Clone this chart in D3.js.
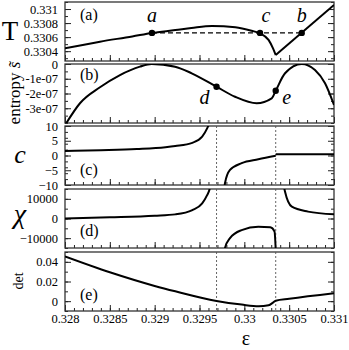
<!DOCTYPE html>
<html>
<head>
<meta charset="utf-8">
<script src="https://cdn.jsdelivr.net/npm/d3@7"></script>
<style>
  body { margin: 0; background: #fff; }
  svg { display: block; }
  text { font-family: "Liberation Serif", "Times New Roman", serif; fill: #000; }
  .tick text { font-size: 12.5px; }
</style>
</head>
<body>
<svg id="chart"></svg>
<script>
// x axis (epsilon)
const epsMajor = [0.328, 0.3285, 0.329, 0.3295, 0.33, 0.3305, 0.331];
const epsLabels = ["0.328", "0.3285", "0.329", "0.3295", "0.33", "0.3305", "0.331"];

// spinodal positions (dashed verticals)
const spinodal = [0.32969, 0.33035];

// (a) temperature
const tTicks = [0.3304, 0.3306, 0.3308, 0.331];
const tLabels = ["0.3304", "0.3306", "0.3308", "0.331"];
const tEps = [0.328, 0.32839, 0.32875, 0.32897, 0.32923, 0.32941, 0.32964, 0.3299, 0.33008, 0.330175, 0.33027, 0.33032, 0.33035];
const tVal = [0.33044, 0.330535, 0.33061, 0.33066, 0.3307, 0.33073, 0.33076, 0.33074, 0.33069, 0.330654, 0.33056, 0.33044, 0.330345];
const tEps2 = [0.33035, 0.331];
const tVal2 = [0.330345, 0.331057];
const tieEps = [0.32897, 0.33064];
const tieT = 0.33066;
const tPoints = [
  { name: "a", eps: 0.32897, t: 0.33066 },
  { name: "c", eps: 0.330175, t: 0.33066 },
  { name: "b", eps: 0.33064, t: 0.33066 }
];

// (b) entropy
const sTicks = [0, -1e-7, -2e-7, -3e-7];
const sLabels = ["0", "-1e-07", "-2e-07", "-3e-07"];
const sEps = [0.328, 0.328167, 0.32839, 0.328613, 0.328836, 0.328967, 0.329227, 0.329413, 0.32969, 0.329896, 0.330138, 0.330305, 0.33035, 0.330454, 0.33064, 0.330788, 0.3309, 0.331];
const sVal = [-4.15, -2.66, -1.58, -0.75, -0.18, 0, -0.18, -0.63, -1.54, -2.22, -2.66, -2.33, -1.81, -0.63, 0, -0.41, -1.31, -2.78].map(v => v * 1e-7);
const sPoints = [
  { name: "d", eps: 0.32969, s: -1.54e-7 },
  { name: "e", eps: 0.33035, s: -1.81e-7 }
];

// (c) specific heat
const cTicks = [10, 5, 0, -5, -10];
const cEps1 = [0.328, 0.3284, 0.3288, 0.32912, 0.32923, 0.32942, 0.32953, 0.329585, 0.32961, 0.32963];
const cVal1 = [1.5, 1.8, 2.2, 2.8, 3.2, 4.3, 6.4, 9.2, 11, 14];
const cEps2 = [0.32977, 0.329784, 0.32984, 0.32997, 0.330156, 0.33035];
const cVal2 = [-14, -9.4, -4.9, -2.6, -1.3, -0.1];
const cEps3 = [0.33035, 0.331];
const cVal3 = [0.4, 0.4];

// (d) susceptibility
const chiTicks = [10000, 0, -10000];
const chiEps1 = [0.328, 0.3285, 0.329, 0.32923, 0.32942, 0.32953, 0.329585, 0.32961, 0.32963];
const chiVal1 = [0, 600, 1400, 2100, 4300, 7700, 11900, 14500, 19000];
const chiEps2 = [0.32977, 0.329784, 0.32984, 0.32997, 0.330156, 0.33029, 0.330337, 0.33035];
const chiVal2 = [-19000, -15000, -10000, -5900, -4200, -4500, -6700, -16000];
const chiEps3 = [0.33043, 0.330454, 0.33053, 0.33071, 0.331];
const chiVal3 = [19000, 13600, 6000, 3500, 2100];

// (e) determinant
const detTicks = [0, 0.02, 0.04];
const detEps = [0.328, 0.3285, 0.329, 0.32923, 0.32969, 0.32997, 0.33016, 0.33027, 0.33032, 0.33035, 0.3305, 0.331];
const detVal = [0.0455, 0.0294, 0.0155, 0.0100, 0.0002, -0.0035, -0.0052, -0.0042, -0.0015, 0.0005, 0.0024, 0.008];

const W = 349, H = 350;
const left = 65, right = 334, ph = 59;

const svg = d3.select("#chart").attr("width", W).attr("height", H);

const x = d3.scaleLinear().domain([0.328, 0.331]).range([left, right]);

// build one stacked panel, returns its y scale and group
function panel(id, top, yDom, yMajor, yFmt, yMinorCount, showX) {
  const y = d3.scaleLinear().domain(yDom).range([top + ph, top]);
  const g = svg.append("g").attr("id", id);

  g.append("clipPath").attr("id", "clip-" + id)
    .append("rect")
      .attr("x", left).attr("y", top)
      .attr("width", right - left).attr("height", ph);

  // minor ticks
  g.append("g").attr("transform", "translate(0," + (top + ph) + ")")
    .call(d3.axisBottom(x).ticks(30).tickSize(-3).tickFormat(""));
  g.append("g").attr("transform", "translate(0," + (top + ph) + ")")
    .call(d3.axisBottom(x).tickValues(epsMajor).tickSize(-6).tickPadding(3)
      .tickFormat((d, i) => showX ? epsLabels[i] : ""));
  g.append("g").attr("transform", "translate(" + left + ",0)")
    .call(d3.axisLeft(y).ticks(yMinorCount).tickSize(-3).tickFormat(""));
  g.append("g").attr("transform", "translate(" + left + ",0)")
    .call(d3.axisLeft(y).tickValues(yMajor).tickSize(-6).tickPadding(7).tickFormat(yFmt));
  g.append("g").attr("transform", "translate(" + right + ",0)")
    .call(d3.axisRight(y).ticks(yMinorCount).tickSize(-3).tickFormat(""));
  g.append("g").attr("transform", "translate(" + right + ",0)")
    .call(d3.axisRight(y).tickValues(yMajor).tickSize(-6).tickFormat(""));

  g.selectAll(".domain").remove();
  g.selectAll(".tick line").attr("stroke", "#222");

  g.append("rect")
    .attr("x", left).attr("y", top)
    .attr("width", right - left).attr("height", ph)
    .attr("fill", "none").attr("stroke", "#333").attr("stroke-width", 1.3);

  const plot = g.append("g").attr("clip-path", "url(#clip-" + id + ")");
  return { y, g, plot, top };
}

function curve(p, xs, ys) {
  const line = d3.line()
    .x(d => x(d[0])).y(d => p.y(d[1]))
    .curve(d3.curveMonotoneX);
  p.plot.append("path")
    .datum(d3.zip(xs, ys))
    .attr("d", line)
    .attr("fill", "none")
    .attr("stroke", "#000")
    .attr("stroke-width", 2);
}

function spinodals(p) {
  p.plot.selectAll("line.sp")
    .data(spinodal).join("line")
      .attr("class", "sp")
      .attr("x1", d => x(d)).attr("x2", d => x(d))
      .attr("y1", p.top).attr("y2", p.top + ph)
      .attr("stroke", "#555")
      .attr("stroke-width", 0.9)
      .attr("stroke-dasharray", "2,2");
}

function panelTag(p, label, yPos) {
  p.g.append("text")
    .attr("x", 80).attr("y", yPos)
    .style("font-size", "16px")
    .text(label);
}

// (a)
const pa = panel("pa", 2, [0.33026, 0.3311], tTicks, (d, i) => tLabels[i], 8, false);
pa.plot.append("line")
  .attr("x1", x(tieEps[0])).attr("x2", x(tieEps[1]))
  .attr("y1", pa.y(tieT)).attr("y2", pa.y(tieT))
  .attr("stroke", "#000").attr("stroke-width", 1.1)
  .attr("stroke-dasharray", "5,3");
curve(pa, tEps, tVal);
curve(pa, tEps2, tVal2);
pa.g.selectAll("circle").data(tPoints).join("circle")
  .attr("cx", d => x(d.eps)).attr("cy", d => pa.y(d.t)).attr("r", 3.2);
pa.g.selectAll("text.pt").data(tPoints).join("text")
  .attr("class", "pt")
  .attr("x", d => x(d.eps) + (d.name === "c" ? 6 : 0))
  .attr("y", 22)
  .attr("text-anchor", "middle")
  .style("font-size", "20px").style("font-style", "italic")
  .text(d => d.name);
panelTag(pa, "(a)", 20);

// (b)
const pb = panel("pb", 64, [-4e-7, 0], sTicks, (d, i) => sLabels[i], 8, false);
curve(pb, sEps, sVal);
pb.g.selectAll("circle").data(sPoints).join("circle")
  .attr("cx", d => x(d.eps)).attr("cy", d => pb.y(d.s)).attr("r", 3.2);
pb.g.selectAll("text.pt").data(sPoints).join("text")
  .attr("class", "pt")
  .attr("x", d => x(d.eps) + (d.name === "d" ? -12 : 11))
  .attr("y", 104)
  .attr("text-anchor", "middle")
  .style("font-size", "20px").style("font-style", "italic")
  .text(d => d.name);
panelTag(pb, "(b)", 80);

// (c)
const pc = panel("pc", 126, [-10, 10], cTicks, d3.format("d"), 8, false);
spinodals(pc);
curve(pc, cEps1, cVal1);
curve(pc, cEps2, cVal2);
curve(pc, cEps3, cVal3);
panelTag(pc, "(c)", 175);

// (d)
const pd = panel("pd", 189, [-15000, 15000], chiTicks, d3.format("d"), 6, false);
spinodals(pd);
curve(pd, chiEps1, chiVal1);
curve(pd, chiEps2, chiVal2);
curve(pd, chiEps3, chiVal3);
panelTag(pd, "(d)", 236);

// (e)
const pe = panel("pe", 252, [-0.01, 0.05], detTicks, d3.format(".2~f"), 6, true);
spinodals(pe);
curve(pe, detEps, detVal);
panelTag(pe, "(e)", 300);

// axis titles
svg.append("text").attr("x", 10).attr("y", 40)
  .attr("text-anchor", "middle").style("font-size", "27px").text("T");

const ent = svg.append("text")
  .attr("transform", "translate(20,93) rotate(-90)")
  .attr("text-anchor", "middle").style("font-size", "17px");
ent.append("tspan").text("entropy ");
ent.append("tspan").style("font-style", "italic").text("s\u0303");

svg.append("text").attr("x", 20).attr("y", 163)
  .attr("text-anchor", "middle").style("font-size", "26px").style("font-style", "italic").text("c");
svg.append("text").attr("x", 20).attr("y", 223)
  .attr("text-anchor", "middle").style("font-size", "28px").style("font-style", "italic").text("\u03c7");
svg.append("text")
  .attr("transform", "translate(23,281) rotate(-90)")
  .attr("text-anchor", "middle").style("font-size", "14px").text("det");
svg.append("text").attr("x", 246).attr("y", 345)
  .attr("text-anchor", "middle").style("font-size", "20px").text("\u03b5");
</script>
</body>
</html>
